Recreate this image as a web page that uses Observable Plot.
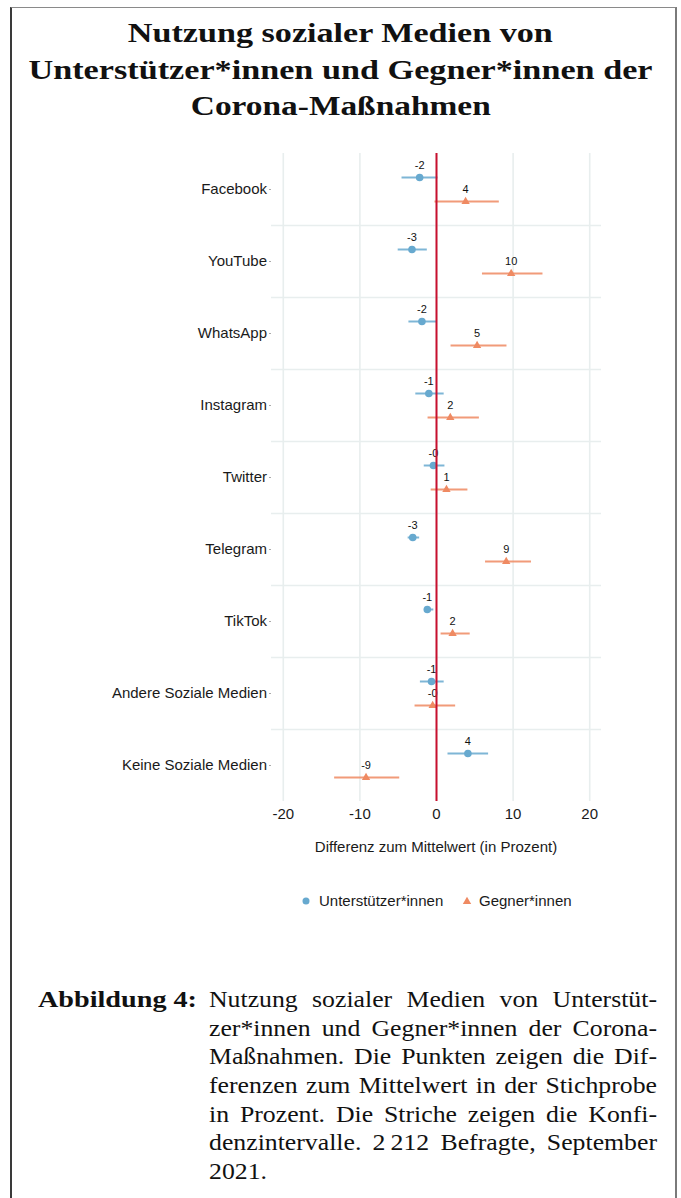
<!DOCTYPE html>
<html>
<head>
<meta charset="utf-8">
<script src="https://cdn.jsdelivr.net/npm/d3@7"></script>
<script src="https://cdn.jsdelivr.net/npm/@observablehq/plot@0.6"></script>
<style>
  html, body { margin: 0; padding: 0; background: #fff; }
  body { width: 681px; height: 1198px; position: relative; overflow: hidden; }
  #frame { position: absolute; left: 10px; top: 7px; width: 663px; height: 1300px;
           border-left: 2px solid #3a3a3a; border-top: 1px solid #8a8a8a; border-right: 2px solid #7a7a7a; }
  #title { position: absolute; left: 0; top: 15px; width: 681px; text-align: center;
           font-family: "Liberation Serif", "Times New Roman", serif; font-weight: bold; font-size: 28px; line-height: 36.5px; color: #111; }
  #title .line { position: absolute; left: 0; width: 681px; text-align: center; }
  #title .line span { display: inline-block; white-space: nowrap; transform-origin: center; }
  #chart { position: absolute; left: 0; top: 130px; }
  #xlabel { position: absolute; left: 271px; width: 330px; top: 838px; text-align: center;
            font-family: "Liberation Sans", Arial, sans-serif; font-size: 15px; line-height: 18px; color: #1a1a1a; white-space: nowrap; }
  #legend { position: absolute; left: 0; top: 892px; width: 681px; height: 20px;
            font-family: "Liberation Sans", Arial, sans-serif; font-size: 15px; line-height: 18px; color: #1a1a1a; }
  #legend .item { position: absolute; top: 0; white-space: nowrap; }
  #legend svg { position: absolute; top: 0; }
  #caption { position: absolute; left: 0; top: 0; width: 681px;
             font-family: "Liberation Serif", "Times New Roman", serif; font-size: 23px; color: #111; }
  #caption .lab { position: absolute; left: 38px; top: 986px; font-weight: bold; white-space: nowrap; transform-origin: left center; line-height: 28px; }
  #caption .body { position: absolute; left: 209px; top: 986px; width: 400px; transform: scaleX(1.12); transform-origin: left top; }
  #caption .body div { height: 28.7px; line-height: 28px; text-align: justify; text-align-last: justify; white-space: nowrap; }
  #caption .body div.last { text-align: left; text-align-last: left; }
</style>
</head>
<body>
<div id="frame"></div>
<div id="title"></div>
<div id="chart"></div>
<div id="xlabel"></div>
<div id="legend"></div>
<div id="caption"></div>
<script>
// ---------------- data ----------------
const categories = ["Facebook", "YouTube", "WhatsApp", "Instagram", "Twitter", "Telegram", "TikTok", "Andere Soziale Medien", "Keine Soziale Medien"];
const groups = ["Unterstützer*innen", "Gegner*innen"];
// Unterstützer*innen: difference to mean and confidence interval (percent)
const supportValue = [-2.2, -3.2, -1.9, -1.0, -0.4, -3.1, -1.2, -0.65, 4.1];
const supportLow   = [-4.5, -5.0, -3.6, -2.7, -1.6, -3.7, -1.5, -2.1, 1.5];
const supportHigh  = [ 0.2, -1.2,  0.0,  1.0,  1.1, -2.2, -0.35, 1.0, 6.8];
// Gegner*innen
const opposeValue = [3.8, 9.75, 5.3, 1.8, 1.3, 9.1, 2.1, -0.5, -9.2];
const opposeLow   = [-0.2, 6.0, 1.9, -1.1, -0.7, 6.4, 0.6, -2.8, -13.3];
const opposeHigh  = [8.2, 13.9, 9.2, 5.6, 4.1, 12.4, 4.4, 2.5, -4.8];
const xTicks = [-20, -10, 0, 10, 20];

const titleLines = ["Nutzung sozialer Medien von", "Unterstützer*innen und Gegner*innen der", "Corona-Maßnahmen"];
const xLabel = "Differenz zum Mittelwert (in Prozent)";
const captionLabel = "Abbildung 4:";
const captionLines = [
  "Nutzung sozialer Medien von Unterstüt-",
  "zer*innen und Gegner*innen der Corona-",
  "Maßnahmen. Die Punkten zeigen die Dif-",
  "ferenzen zum Mittelwert in der Stichprobe",
  "in Prozent. Die Striche zeigen die Konfi-",
  "denzintervalle. 2\u2009212 Befragte, September",
  "2021."
];

// ---------------- styles ----------------
const blue = "#67a9cf";
const orange = "#ef8a62";
const red = "#c8102e";
const gridColor = "#e8eeee";

const support = categories.map((c, i) => ({category: c, group: groups[0], value: supportValue[i], lo: supportLow[i], hi: supportHigh[i]}));
const oppose = categories.map((c, i) => ({category: c, group: groups[1], value: opposeValue[i], lo: opposeLow[i], hi: opposeHigh[i]}));

const fmt = v => (v < 0 || Object.is(Math.round(v), -0) ? "-" : "") + Math.abs(Math.round(v));

const W = 681, H = 731, mt = 23, mb = 60, ml = 271, mr = 80;
const step = (H - mt - mb) / categories.length;
const off = step / 6;

const chart = Plot.plot({
  width: W, height: H,
  marginTop: mt, marginBottom: mb, marginLeft: ml, marginRight: mr,
  style: {fontFamily: "'Liberation Sans', Arial, sans-serif", fontSize: "15px", background: "transparent", color: "#1a1a1a"},
  x: {domain: [-21.54, 21.54]},
  y: {type: "point", domain: categories, padding: 0.5},
  marks: [
    Plot.ruleX(xTicks, {stroke: gridColor, strokeWidth: 1.6}),
    Plot.ruleY(categories.slice(0, -1), {dy: step / 2, stroke: gridColor, strokeWidth: 1.6}),
    Plot.ruleY(support, {y: "category", x1: "lo", x2: "hi", dy: -off, stroke: blue, strokeWidth: 2, strokeOpacity: 0.85}),
    Plot.ruleY(oppose, {y: "category", x1: "lo", x2: "hi", dy: off, stroke: orange, strokeWidth: 2, strokeOpacity: 0.85}),
    Plot.dot(support, {x: "value", y: "category", dy: -off, r: 3.8, fill: blue, symbol: "circle"}),
    Plot.dot(oppose, {x: "value", y: "category", dy: off, r: 3.1, fill: orange, symbol: "triangle"}),
    Plot.text(support, {x: "value", y: "category", dy: -off - 12, text: d => fmt(d.value), fontSize: 11, fill: "#111"}),
    Plot.text(oppose, {x: "value", y: "category", dy: off - 12, text: d => fmt(d.value), fontSize: 11, fill: "#111"}),
    Plot.ruleX([0], {stroke: red, strokeWidth: 2}),
    Plot.axisY({tickSize: 2, tickPadding: 2.5, fontSize: 15, label: null, stroke: "#aaa", fill: "#1a1a1a"}),
    Plot.axisX({ticks: xTicks, tickSize: 0, tickPadding: 7, fontSize: 15, label: null, fill: "#1a1a1a", tickFormat: d => String(d)})
  ]
});
document.getElementById("chart").appendChild(chart);

// ---------------- title ----------------
const titleEl = document.getElementById("title");
const titleWidths = [425, 624, 300];
titleLines.forEach((t, i) => {
  const line = document.createElement("div");
  line.className = "line";
  line.style.top = (i * 36.5) + "px";
  const span = document.createElement("span");
  span.textContent = t;
  line.appendChild(span);
  titleEl.appendChild(line);
  const w = span.getBoundingClientRect().width;
  span.style.transform = `scaleX(${titleWidths[i] / w})`;
});

// ---------------- x label ----------------
document.getElementById("xlabel").textContent = xLabel;

// ---------------- legend ----------------
const legend = document.getElementById("legend");
legend.innerHTML = `
  <svg width="10" height="18" style="left:301px"><circle cx="5" cy="9" r="3.5" fill="${blue}"/></svg>
  <div class="item" style="left:319px">${groups[0]}</div>
  <svg width="12" height="18" style="left:461px"><path d="${d3.symbol(d3.symbolTriangle, Math.PI * 3.1 * 3.1)()}" transform="translate(6,9.5)" fill="${orange}"/></svg>
  <div class="item" style="left:479px">${groups[1]}</div>`;

// ---------------- caption ----------------
const cap = document.getElementById("caption");
const lab = document.createElement("div");
lab.className = "lab";
lab.textContent = captionLabel;
cap.appendChild(lab);
const labW = lab.getBoundingClientRect().width;
lab.style.transform = `scaleX(${159 / labW})`;
const body = document.createElement("div");
body.className = "body";
captionLines.forEach((t, i) => {
  const d = document.createElement("div");
  if (i === captionLines.length - 1) d.className = "last";
  d.textContent = t;
  body.appendChild(d);
});
cap.appendChild(body);
</script>
</body>
</html>
